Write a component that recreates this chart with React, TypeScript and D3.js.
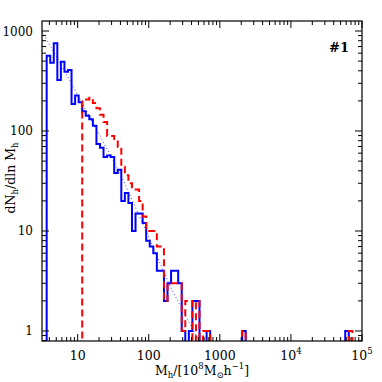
import * as d3 from "d3";
import React, { useEffect, useRef } from "react";

// histogram bins: log10 of the first lower edge, width in dex
const binLogStart = 0.564;
const binLogWidth = 0.05;

// halo counts per bin (blue: solid, red: dashed)
const blueCounts = [
  566, 482, 753, 324, 494, 392, 407, 186, 226, 194,
  158, 142, 131, 113, 74, 68, 55, 57, 55, 38,
  41, 20, 24, 19, 10, 15, 15, 12, 8, 7,
  6, 4, 4, 2, 3, 4, 4, 3, 1, 0,
  1, 2, 2, 0, 0, 1, 0, 0, 0, 0,
  0, 0, 0, 0, 0, 1, 0, 0, 0, 0,
  0, 0, 0, 0, 0, 0, 0, 0, 0, 0,
  0, 0, 0, 0, 0, 0, 0, 0, 0, 0,
  0, 0, 0, 0, 1, 0, 0,
];
const redCounts = [
  0, 0, 0, 0, 0, 0, 0, 0, 0, 0,
  207, 207, 215, 190, 169, 145, 123, 89, 89, 83,
  69, 44, 36, 30, 26, 26, 20, 14, 10, 10,
  10, 7, 7, 2, 3, 3, 3, 3, 1, 2,
  2, 0, 2, 0, 1, 1, 0, 0, 0, 0,
  0, 0, 0, 0, 0, 1, 0, 0, 0, 0,
  0, 0, 0, 0, 0, 0, 0, 0, 0, 0,
  0, 0, 0, 0, 0, 0, 0, 0, 0, 0,
  0, 0, 0, 0, 0, 1, 0,
];

// dotted fit
const fitMass = [3.15, 5, 10, 20, 40, 100, 200, 470, 600];
const fitValue = [985, 560, 229, 93, 37, 8.7, 2.8, 0.88, 0.62];

const xMajor = [10, 100, 1000, 1e4, 1e5];
const xLabels = [["10", ""], ["100", ""], ["1000", ""], ["10", "4"], ["10", "5"]];
const yMajor = [1, 10, 100, 1000];
const yLabels = ["1", "10", "100", "1000"];

export default function App() {
  const ref = useRef<SVGSVGElement>(null);

  useEffect(() => {
    const width = 382;
    const height = 382;
    const margin = { top: 21, right: 20, bottom: 41, left: 42 };
    const innerWidth = width - margin.left - margin.right;
    const innerHeight = height - margin.top - margin.bottom;
    const font = "'DejaVu Serif', 'Liberation Serif', serif";

    const svg = d3.select(ref.current);
    svg.selectAll("*").remove();

    const x = d3.scaleLog().domain([3.15, 1e5]).range([0, innerWidth]);
    const y = d3.scaleLog().domain([0.794, 1259]).range([innerHeight, 0]);

    svg
      .append("defs")
      .append("clipPath")
      .attr("id", "plot-clip")
      .append("rect")
      .attr("width", innerWidth)
      .attr("height", innerHeight);

    const g = svg
      .append("g")
      .attr("transform", `translate(${margin.left},${margin.top})`);
    const plot = g.append("g").attr("clip-path", "url(#plot-clip)");

    const edge = (k: number) => Math.pow(10, binLogStart + k * binLogWidth);
    const yOf = (v: number) => (v > 0 ? y(v) : innerHeight + 6);

    const stepPath = (counts: number[]) => {
      const pts: [number, number][] = [[edge(0), 0]];
      counts.forEach((n, k) => {
        pts.push([edge(k), n]);
        pts.push([edge(k + 1), n]);
      });
      pts.push([edge(counts.length), 0]);
      return d3
        .line<[number, number]>()
        .x((d) => x(d[0]))
        .y((d) => yOf(d[1]))(pts);
    };

    // dotted fit
    const fitLine = d3
      .line<number>()
      .x((d, i) => x(fitMass[i]))
      .y((d) => y(d));
    plot
      .append("path")
      .attr("d", fitLine(fitValue))
      .attr("fill", "none")
      .attr("stroke", "#3a3aff")
      .attr("stroke-width", 1)
      .attr("stroke-dasharray", "1,2.5");

    plot
      .append("path")
      .attr("d", stepPath(blueCounts))
      .attr("fill", "none")
      .attr("stroke", "#0000ff")
      .attr("stroke-width", 2);

    plot
      .append("path")
      .attr("d", stepPath(redCounts))
      .attr("fill", "none")
      .attr("stroke", "#ff0000")
      .attr("stroke-width", 2)
      .attr("stroke-dasharray", "7,4");

    // frame
    g.append("rect")
      .attr("width", innerWidth)
      .attr("height", innerHeight)
      .attr("fill", "none")
      .attr("stroke", "#000")
      .attr("stroke-width", 1.2);

    const isMajor = (v: number) => Math.abs(Math.log10(v) - Math.round(Math.log10(v))) < 1e-6;
    const ticks = g.append("g").attr("stroke", "#000").attr("stroke-width", 1);

    x.ticks(50).forEach((v) => {
      const len = isMajor(v) ? 7 : 4;
      const px = x(v);
      ticks.append("line").attr("x1", px).attr("x2", px).attr("y1", innerHeight).attr("y2", innerHeight - len);
      ticks.append("line").attr("x1", px).attr("x2", px).attr("y1", 0).attr("y2", len);
    });
    y.ticks(50).forEach((v) => {
      const len = isMajor(v) ? 7 : 4;
      const py = y(v);
      ticks.append("line").attr("x1", 0).attr("x2", len).attr("y1", py).attr("y2", py);
      ticks.append("line").attr("x1", innerWidth).attr("x2", innerWidth - len).attr("y1", py).attr("y2", py);
    });

    // tick labels
    xMajor.forEach((v, i) => {
      const t = g
        .append("text")
        .attr("x", x(v))
        .attr("y", innerHeight + 19)
        .attr("text-anchor", "middle")
        .attr("font-family", font)
        .attr("font-size", 12.5)
        .attr("fill", "#000");
      t.append("tspan").text(xLabels[i][0]);
      if (xLabels[i][1]) {
        t.append("tspan").attr("dy", -6).attr("font-size", 8.5).text(xLabels[i][1]);
      }
    });
    yMajor.forEach((v, i) => {
      g.append("text")
        .attr("x", -9)
        .attr("y", y(v) + 4.5)
        .attr("text-anchor", "end")
        .attr("font-family", font)
        .attr("font-size", 12)
        .attr("fill", "#000")
        .text(yLabels[i]);
    });

    // x title: M_h/[10^8 M_sun h^-1]
    const xt = svg
      .append("text")
      .attr("x", 202)
      .attr("y", 375)
      .attr("text-anchor", "middle")
      .attr("font-family", font)
      .attr("font-size", 12.5)
      .attr("fill", "#000");
    xt.append("tspan").text("M");
    xt.append("tspan").attr("font-size", 8.5).attr("dy", 3).text("h");
    xt.append("tspan").attr("dy", -3).text("/[10");
    xt.append("tspan").attr("font-size", 8.5).attr("dy", -6).text("8");
    xt.append("tspan").attr("dy", 6).text("M");
    xt.append("tspan").attr("font-size", 8.5).attr("dy", 3).text("\u2299");
    xt.append("tspan").attr("dy", -3).text("h");
    xt.append("tspan").attr("font-size", 8.5).attr("dy", -6).text("\u22121");
    xt.append("tspan").attr("dy", 6).text("]");

    // y title: dN_h/dln M_h
    const yt = svg
      .append("text")
      .attr("transform", "translate(15,178) rotate(-90)")
      .attr("text-anchor", "middle")
      .attr("font-family", font)
      .attr("font-size", 12.5)
      .attr("fill", "#000");
    yt.append("tspan").text("dN");
    yt.append("tspan").attr("font-size", 8.5).attr("dy", 3).text("h");
    yt.append("tspan").attr("dy", -3).text("/dln M");
    yt.append("tspan").attr("font-size", 8.5).attr("dy", 3).text("h");

    svg
      .append("text")
      .attr("x", 349)
      .attr("y", 52)
      .attr("text-anchor", "end")
      .attr("font-family", font)
      .attr("font-size", 13)
      .attr("font-weight", "bold")
      .attr("fill", "#000")
      .text("#1");
  }, []);

  return (
    <svg
      ref={ref}
      width={382}
      height={382}
      style={{ position: "absolute", left: 0, top: 0, background: "#fff" }}
    ></svg>
  );
}
